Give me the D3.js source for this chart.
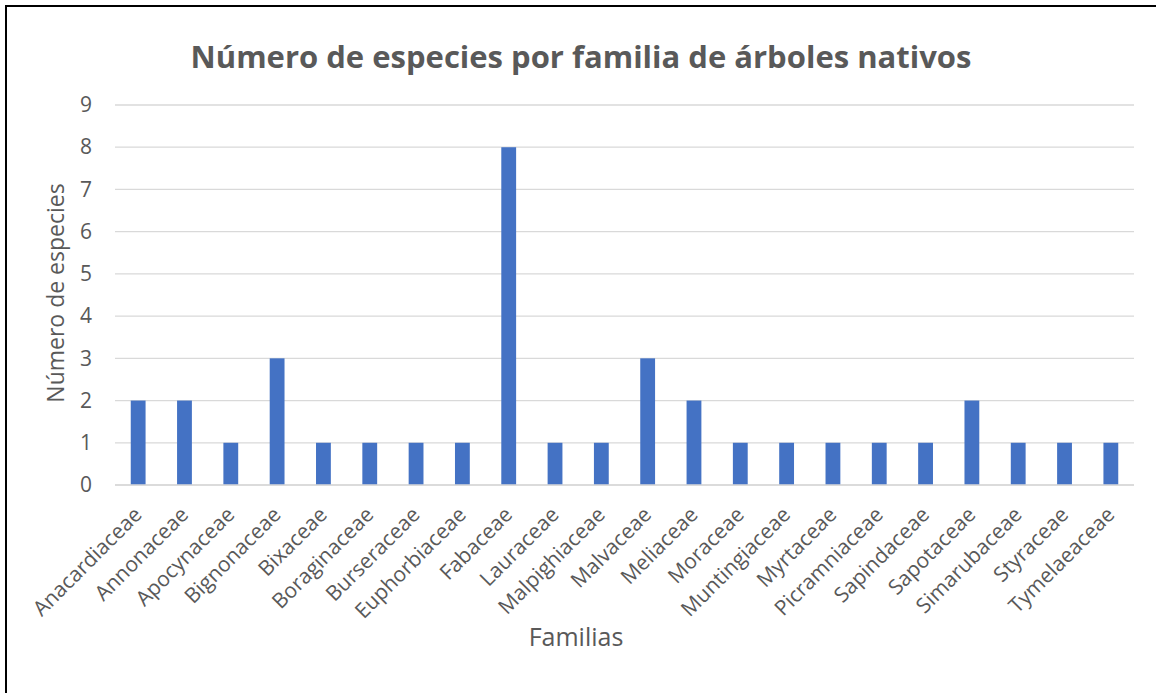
<!DOCTYPE html>
<html>
<head>
<meta charset="utf-8">
<script src="https://cdn.jsdelivr.net/npm/d3@7"></script>
<style>
  body { margin: 0; background: #fff; }
</style>
</head>
<body>
<script>
// chart data
const familias = ["Anacardiaceae", "Annonaceae", "Apocynaceae", "Bignonaceae", "Bixaceae",
  "Boraginaceae", "Burseraceae", "Euphorbiaceae", "Fabaceae", "Lauraceae", "Malpighiaceae",
  "Malvaceae", "Meliaceae", "Moraceae", "Muntingiaceae", "Myrtaceae", "Picramniaceae",
  "Sapindaceae", "Sapotaceae", "Simarubaceae", "Styraceae", "Tymelaeaceae"];
const especies = [2, 2, 1, 3, 1, 1, 1, 1, 8, 1, 1, 3, 2, 1, 1, 1, 1, 1, 2, 1, 1, 1];
const yTicks = [0, 1, 2, 3, 4, 5, 6, 7, 8, 9];

const width = 1156, height = 693;
const margin = {top: 105, right: 22, bottom: 208, left: 115};
const font = "'Open Sans', 'Noto Sans', sans-serif";

const svg = d3.select("body").append("svg")
    .attr("width", width)
    .attr("height", height)
    .attr("font-family", font);

svg.append("rect")
    .attr("x", 6).attr("y", 6)
    .attr("width", width + 10).attr("height", height + 10)
    .attr("fill", "#fff")
    .attr("stroke", "#000")
    .attr("stroke-width", 2);

const x = d3.scaleBand()
    .domain(familias)
    .range([margin.left, width - margin.right])
    .paddingInner(0.68)
    .paddingOuter(0.34);

const y = d3.scaleLinear()
    .domain([0, 9])
    .range([height - margin.bottom, margin.top]);

// gridlines
svg.append("g")
  .selectAll("line")
  .data(yTicks)
  .join("line")
    .attr("x1", margin.left)
    .attr("x2", width - margin.right)
    .attr("y1", d => y(d))
    .attr("y2", d => y(d))
    .attr("stroke", "#d9d9d9")
    .attr("stroke-width", 1.3);

// y axis labels
const yAxis = d3.axisLeft(y).tickValues(yTicks).tickSize(0).tickPadding(0);
svg.append("g")
    .attr("transform", `translate(${margin.left - 23},0)`)
    .call(yAxis)
    .call(g => g.select(".domain").remove())
    .call(g => g.selectAll("text")
      .style("font-family", font)
      .style("font-size", "21px")
      .attr("fill", "#595959"));

// bars
svg.append("g")
  .selectAll("rect")
  .data(especies)
  .join("rect")
    .attr("x", (d, i) => x(familias[i]))
    .attr("y", d => y(d))
    .attr("width", x.bandwidth())
    .attr("height", d => y(0) - y(d))
    .attr("fill", "#4472c4");

// baseline
svg.append("line")
    .attr("x1", margin.left)
    .attr("x2", width - margin.right)
    .attr("y1", y(0))
    .attr("y2", y(0))
    .attr("stroke", "#d9d9d9")
    .attr("stroke-width", 1.5);

// x axis labels
const xAxis = d3.axisBottom(x).tickSize(0).tickPadding(0);
svg.append("g")
    .attr("transform", `translate(0,${y(0)})`)
    .call(xAxis)
    .call(g => g.select(".domain").remove())
    .call(g => g.selectAll("text")
      .style("font-family", font)
      .style("font-size", "21px")
      .attr("fill", "#595959")
      .attr("text-anchor", "end")
      .attr("dy", 0)
      .attr("transform", "translate(5,31) rotate(-45)"));

// title
svg.append("text")
    .attr("x", 581)
    .attr("y", 68)
    .attr("text-anchor", "middle")
    .attr("font-size", 31)
    .attr("font-weight", "bold")
    .attr("fill", "#595959")
    .text("Número de especies por familia de árboles nativos");

// axis titles
svg.append("text")
    .attr("transform", "translate(64,293) rotate(-90)")
    .attr("text-anchor", "middle")
    .attr("font-size", 23)
    .attr("fill", "#595959")
    .text("Número de especies");

svg.append("text")
    .attr("x", 576)
    .attr("y", 646)
    .attr("text-anchor", "middle")
    .attr("font-size", 25)
    .attr("fill", "#595959")
    .text("Familias");
</script>
</body>
</html>
